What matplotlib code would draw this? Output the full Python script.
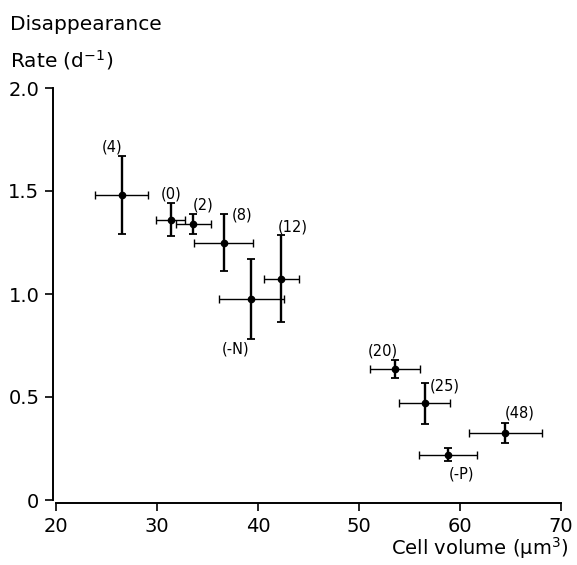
import matplotlib
matplotlib.use("Agg")
import matplotlib.pyplot as plt

# data
labels = ["(4)", "(0)", "(2)", "(8)", "(12)", "(-N)", "(20)", "(25)", "(48)", "(-P)"]
volume = [26.5, 31.35, 33.6, 36.6, 42.3, 39.35, 53.55, 56.5, 64.5, 58.8]
volume_err = [2.6, 1.4, 1.7, 2.9, 1.75, 3.2, 2.5, 2.55, 3.6, 2.9]
rate = [1.48, 1.36, 1.34, 1.25, 1.075, 0.975, 0.635, 0.47, 0.325, 0.22]
rate_err = [0.19, 0.08, 0.05, 0.14, 0.21, 0.195, 0.045, 0.10, 0.047, 0.033]

xticks = [20, 30, 40, 50, 60, 70]
yticks = [0, 0.5, 1.0, 1.5, 2.0]
ytick_labels = ["0", "0.5", "1.0", "1.5", "2.0"]

# label offsets (pixels) relative to each point
offsets = [(-10, 48), (0, 26), (10, 19), (18, 27), (12, 52),
           (-16, -50), (-12, 18), (20, 17), (14, 20), (14, -19)]

plt.rcParams['font.family'] = ['DejaVu Sans']

fig = plt.figure(figsize=(5.77, 5.65), dpi=100)
W, H = 577, 565
ax = fig.add_axes([56 / W, (H - 500) / H, (561 - 56) / W, (500 - 88) / H])

# horizontal bars thin, vertical bars heavier
ax.errorbar(volume, rate, xerr=volume_err, fmt='none', ecolor='black',
            elinewidth=1.0, capsize=3.2, capthick=1.0)
ax.errorbar(volume, rate, yerr=rate_err, fmt='o', color='black', ms=4.5,
            ecolor='black', elinewidth=1.7, capsize=3.2, capthick=1.3)

for lab, x, y, (dx, dy) in zip(labels, volume, rate, offsets):
    ax.annotate(lab, (x, y), xytext=(dx, dy), textcoords='offset pixels',
                ha='center', va='center', fontsize=10.5)

ax.set_xlim(20, 70)
ax.set_ylim(0, 2.0)
ax.set_xticks(xticks)
ax.set_yticks(yticks)
ax.set_yticklabels(ytick_labels)
for s in ['top', 'right']:
    ax.spines[s].set_visible(False)
for s in ['left', 'bottom']:
    ax.spines[s].set_linewidth(1.4)
    ax.spines[s].set_position(('outward', 2))
ax.tick_params(direction='out', length=6, width=1.2, labelsize=14, pad=4)

fig.text(10 / W, 1 - 25 / H, "Disappearance", fontsize=14.5, va='center', ha='left')
fig.text(10 / W, 1 - 60 / H, "Rate (d$^{-1}$)", fontsize=14.5, va='center', ha='left')
fig.text(568 / W, 1 - 548 / H, "Cell volume (µm$^3$)", fontsize=14, va='center', ha='right')

fig.savefig("out.png", dpi=100)
